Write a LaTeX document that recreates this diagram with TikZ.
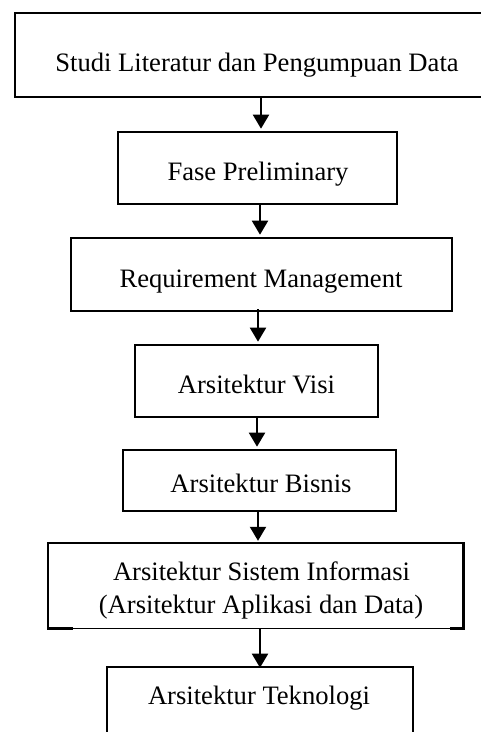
\documentclass[tikz,border=0pt]{standalone}
\usepackage{fontspec}
\setmainfont{Liberation Serif}
\usetikzlibrary{arrows.meta}
\begin{document}
\begin{tikzpicture}[x=1pt,y=-1pt,
  boxnode/.style={draw,line width=2.6pt,inner sep=0pt,rectangle},
  plainbox/.style={inner sep=0pt,rectangle},
  txt/.style={inner sep=0pt,anchor=base,font=\fontsize{26.6}{33}\selectfont},
  arr/.style={line width=2pt,-{Triangle[length=14pt,width=16pt]},shorten >=2pt}]
\useasboundingbox (0,0) rectangle (481,732);
\fill[white] (0,0) rectangle (481,732);
\clip (0,0) rectangle (481,732);
% boxes
\node[boxnode,minimum width=485,minimum height=84] (b1) at (257.5,55) {};
\node[boxnode,minimum width=279,minimum height=72] (b2) at (257.5,168) {};
\node[boxnode,minimum width=381,minimum height=73] (b3) at (261.5,274.5) {};
\node[boxnode,minimum width=243,minimum height=72] (b4) at (256.5,381) {};
\node[boxnode,minimum width=273,minimum height=61] (b5) at (259.5,480.5) {};
\node[plainbox,minimum width=415,minimum height=85] (b6) at (255.5,585.5) {};
\node[boxnode,minimum width=306,minimum height=80] (b7) at (260,707) {};
% box 6 border (thin bottom edge in the middle)
\draw[line width=2.6pt] ([xshift=25pt]b6.south west) -- (b6.south west) -- (b6.north west)
  -- (b6.north east) -- (b6.south east) -- ([xshift=-13pt]b6.south east);
\draw[line width=1pt] ([xshift=25pt]b6.south west) -- ([xshift=-13pt]b6.south east);
% texts
\node[txt] (t1) at (257,71) {Studi Literatur dan Pengumpuan Data};
\node[txt] (t2) at (258,180) {Fase Preliminary};
\node[txt] (t3) at (261,287) {Requirement Management};
\node[txt] (t4) at (256.5,393) {Arsitektur Visi};
\node[txt] (t5) at (261,492) {Arsitektur Bisnis};
\node[txt] (t6a) at (261.5,580) {Arsitektur Sistem Informasi};
\node[txt] (t6b) at (261,613) {(Arsitektur Aplikasi dan Data)};
\node[txt] (t7) at (259,704) {Arsitektur Teknologi};
% arrow columns
\coordinate (x1) at (261,0);
\coordinate (x2) at (260,0);
\coordinate (x3) at (258,0);
\coordinate (x4) at (257,0);
\coordinate (x5) at (258,0);
\coordinate (x6) at (260,0);
\draw[arr] (b1.south -| x1) -- (b2.north -| x1);
\draw[arr] (b2.south -| x2) -- (b3.north -| x2);
\draw[arr] ([yshift=3pt]b3.south -| x3) -- (b4.north -| x3);
\draw[arr] (b4.south -| x4) -- (b5.north -| x4);
\draw[arr] (b5.south -| x5) -- (b6.north -| x5);
\draw[arr] (b6.south -| x6) -- ([yshift=-4pt]b7.north -| x6);
\end{tikzpicture}
\end{document}
